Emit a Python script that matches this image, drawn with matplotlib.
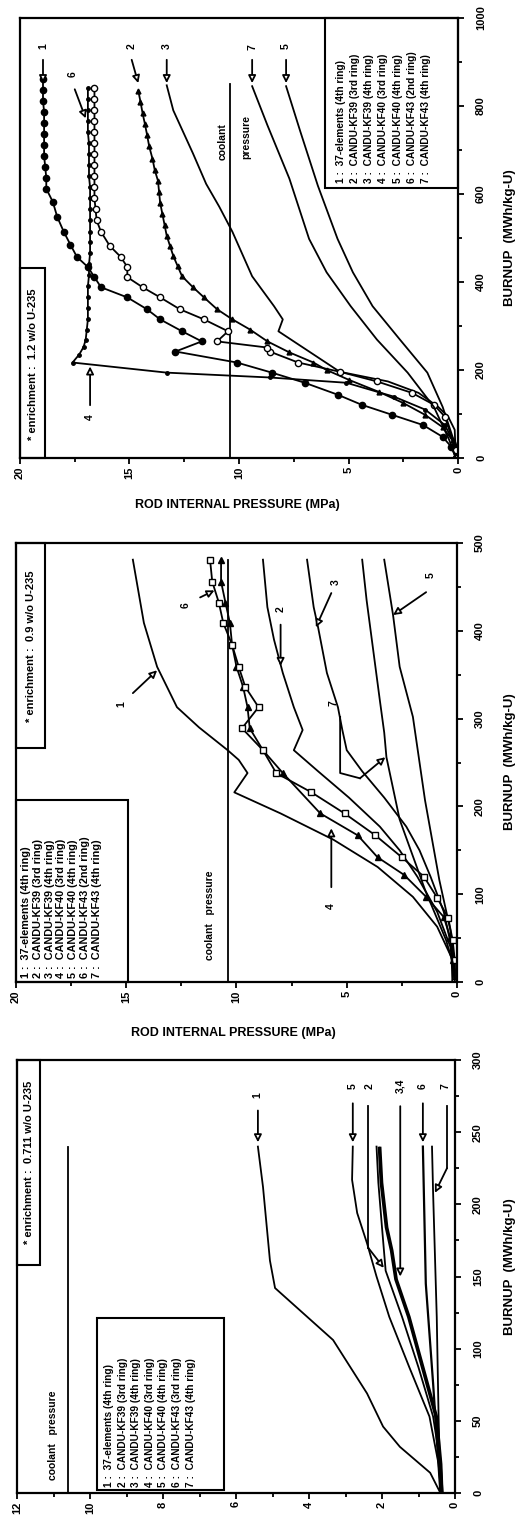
import matplotlib
matplotlib.use('Agg')
import matplotlib.pyplot as plt
from matplotlib.ticker import MultipleLocator
from matplotlib.patches import Rectangle

plt.rcParams['font.family'] = ['Liberation Sans', 'DejaVu Sans']
plt.rcParams['font.weight'] = 'bold'

# ---------------- DATA ----------------
# Panel 1 : enrichment 1.2 w/o U-235  (B = burnup MWh/kg-U, P = pressure MPa)
P1_C1_B = [0, 25, 48, 75, 98, 121, 144, 171, 194, 217, 242, 265, 288, 315, 338, 365, 388, 411, 434, 457,
           485, 514, 548, 582, 612, 637, 662, 687, 712, 737, 762, 787, 812, 837, 862]
P1_C1_P = [0.1, 0.3, 0.7, 1.6, 3.0, 4.4, 5.5, 7.0, 8.5, 10.1, 12.9, 11.7, 12.6, 13.6, 14.2, 15.1, 16.3, 16.6, 16.9, 17.4,
           17.7, 18.0, 18.3, 18.5, 18.8, 18.8, 18.85, 18.9, 18.9, 18.9, 18.9, 18.9, 18.95, 18.95, 18.95]
P1_C2_B = [0, 40, 70, 98, 125, 150, 178, 200, 217, 240, 265, 292, 315, 338, 365, 388, 413, 436, 459, 482, 505,
           530, 555, 580, 605, 630, 655, 680, 708, 735, 760, 783, 810, 835]
P1_C2_P = [0.1, 0.25, 0.7, 1.5, 2.5, 3.6, 5.0, 6.0, 6.6, 7.7, 8.7, 9.5, 10.3, 11.0, 11.6, 12.1, 12.6, 12.8, 13.0, 13.15, 13.3,
           13.4, 13.5, 13.6, 13.65, 13.7, 13.85, 13.95, 14.1, 14.2, 14.3, 14.4, 14.5, 14.6]
P1_C3_B = [0, 64, 94, 116, 148, 174, 196, 288, 315, 345, 413, 514, 571, 623, 692, 790, 847]
P1_C3_P = [0.1, 0.15, 0.45, 0.9, 1.8, 3.2, 5.4, 8.2, 8.0, 8.4, 9.4, 10.3, 10.9, 11.5, 12.1, 13.0, 13.3]
P1_C4_B = [0, 30, 75, 110, 139, 171, 183, 194, 217, 235, 252, 269, 292, 315, 340, 365, 390, 415, 440, 465, 490,
           514, 540, 565, 590, 615, 640, 665, 690, 715, 740, 765, 790, 815, 840]
P1_C4_P = [0.1, 0.15, 0.6, 1.5, 2.9, 5.1, 8.6, 13.3, 17.6, 17.3, 17.1, 17.0, 16.95, 16.9, 16.9, 16.9, 16.9, 16.85, 16.85, 16.8, 16.8,
           16.8, 16.8, 16.8, 16.8, 16.8, 16.85, 16.85, 16.85, 16.85, 16.9, 16.9, 16.9, 16.9, 16.9]
P1_C5_B = [0, 41, 116, 194, 269, 345, 422, 498, 619, 742, 845]
P1_C5_P = [0.1, 0.2, 0.7, 1.4, 2.65, 3.9, 4.8, 5.5, 6.4, 7.2, 7.85]
P1_C6_B = [0, 18, 94, 121, 148, 174, 196, 217, 242, 251, 265, 288, 315, 338, 365, 388, 411, 434, 457, 482, 514,
           540, 565, 590, 615, 640, 665, 690, 715, 740, 765, 790, 815, 840]
P1_C6_P = [0.1, 0.1, 0.6, 1.1, 2.1, 3.7, 5.4, 7.3, 8.6, 8.7, 11.0, 10.5, 11.6, 12.7, 13.6, 14.4, 15.1, 15.1, 15.4, 15.9, 16.3,
           16.5, 16.55, 16.6, 16.6, 16.6, 16.6, 16.6, 16.6, 16.6, 16.6, 16.6, 16.6, 16.6]
P1_C7_B = [0, 41, 116, 194, 269, 345, 422, 498, 635, 756, 845]
P1_C7_P = [0.1, 0.4, 1.1, 2.3, 3.7, 4.9, 6.0, 6.8, 7.7, 8.7, 9.4]
P1_COOLANT_P = 10.4
P1_COOLANT_B = [0, 850]

# Panel 2 : enrichment 0.9 w/o U-235
P2_C1_B = [0, 28, 63, 97, 131, 162, 192, 216, 238, 253, 264, 290, 313, 359, 409, 481]
P2_C1_P = [0.2, 0.25, 0.9, 2.0, 3.6, 5.6, 8.0, 10.1, 9.5, 9.9, 10.4, 11.7, 12.7, 13.6, 14.2, 14.7]
P2_C2_B = [0, 40, 80, 120, 150, 177, 210, 240, 264, 287, 313, 352, 390, 427, 481]
P2_C2_P = [0.1, 0.3, 0.9, 1.8, 2.6, 3.5, 4.9, 6.3, 7.4, 7.0, 7.4, 7.9, 8.3, 8.6, 8.8]
P2_C3_B = [0, 40, 80, 120, 150, 177, 210, 240, 264, 287, 313, 352, 404, 427, 481]
P2_C3_P = [0.1, 0.25, 0.6, 1.2, 1.7, 2.3, 3.3, 4.3, 5.0, 5.2, 5.4, 5.9, 6.3, 6.5, 6.8]
P2_C4_B = [0, 25, 50, 74, 97, 122, 142, 167, 192, 238, 264, 289, 313, 336, 359, 384, 409, 432, 456, 481]
P2_C4_P = [0.2, 0.2, 0.3, 0.6, 1.4, 2.4, 3.6, 4.5, 6.2, 7.9, 8.8, 9.4, 9.5, 9.7, 10.0, 10.2, 10.3, 10.5, 10.7, 10.7]
P2_C5_B = [0, 19, 59, 116, 207, 302, 359, 418, 481]
P2_C5_P = [0.1, 0.1, 0.3, 0.8, 1.45, 2.0, 2.6, 2.9, 3.3]
P2_C6_B = [0, 25, 48, 73, 96, 120, 142, 167, 192, 216, 238, 264, 289, 313, 336, 359, 384, 409, 432, 456, 481]
P2_C6_P = [0.1, 0.1, 0.2, 0.4, 0.9, 1.5, 2.5, 3.7, 5.1, 6.6, 8.2, 8.8, 9.75, 9.0, 9.6, 9.9, 10.2, 10.6, 10.8, 11.1, 11.2]
P2_C7_B = [0, 14, 48, 105, 185, 256, 284, 321, 378, 435, 481]
P2_C7_P = [0.1, 0.1, 0.5, 1.45, 2.6, 3.2, 3.3, 3.5, 3.8, 4.1, 4.3]
P2_COOLANT_P = 10.4
P2_COOLANT_B = [0, 481]

# Panel 3 : enrichment 0.711 w/o U-235
P3_C1_B = [0, 14, 32, 46, 69, 106, 142, 161, 212, 240]
P3_C1_P = [0.4, 0.68, 1.51, 1.97, 2.41, 3.34, 4.93, 5.07, 5.26, 5.4]
P3_C2_B = [0, 20, 53, 87, 122, 154, 184, 215, 240]
P3_C2_P = [0.35, 0.4, 0.6, 1.0, 1.45, 1.9, 2.0, 2.1, 2.15]
P3_C3_B = [0, 20, 53, 87, 122, 148, 168, 184, 215, 239]
P3_C3_P = [0.35, 0.38, 0.5, 0.87, 1.25, 1.6, 1.72, 1.86, 2.0, 2.05]
P3_C4_B = [0, 20, 53, 87, 122, 148, 168, 184, 215, 239]
P3_C4_P = [0.35, 0.4, 0.53, 0.9, 1.28, 1.63, 1.75, 1.89, 2.03, 2.08]
P3_C5_B = [0, 20, 53, 87, 122, 150, 173, 194, 217, 240]
P3_C5_P = [0.38, 0.45, 0.7, 1.25, 1.8, 2.15, 2.41, 2.68, 2.82, 2.8]
P3_C6_B = [0, 76, 145, 240]
P3_C6_P = [0.4, 0.6, 0.8, 0.88]
P3_C7_B = [0, 53, 122, 208, 240]
P3_C7_P = [0.4, 0.45, 0.5, 0.6, 0.63]
P3_COOLANT_P = 10.6
P3_COOLANT_B = [0, 240]

# Tick values
P1_PTICKS = [0, 5, 10, 15, 20]
P1_BTICKS = [0, 200, 400, 600, 800, 1000]
P2_PTICKS = [0, 5, 10, 15, 20]
P2_BTICKS = [0, 100, 200, 300, 400, 500]
P3_PTICKS = [0, 2, 4, 6, 8, 10, 12]
P3_BTICKS = [0, 50, 100, 150, 200, 250, 300]

LEGEND_A = ["1 :  37-elements (4th ring)", "2 :  CANDU-KF39 (3rd ring)", "3 :  CANDU-KF39 (4th ring)",
            "4 :  CANDU-KF40 (3rd ring)", "5 :  CANDU-KF40 (4th ring)", "6 :  CANDU-KF43 (2nd ring)",
            "7 :  CANDU-KF43 (4th ring)"]
LEGEND_B = ["1 :  37-elements (4th ring)", "2 :  CANDU-KF39 (3rd ring)", "3 :  CANDU-KF39 (4th ring)",
            "4 :  CANDU-KF40 (3rd ring)", "5 :  CANDU-KF40 (4th ring)", "6 :  CANDU-KF43 (3rd ring)",
            "7 :  CANDU-KF43 (4th ring)"]

# ---------------- FIGURE ----------------
W, H = 529, 1519
fig = plt.figure(figsize=(W / 100, H / 100), dpi=100)
fig.patch.set_facecolor('white')


def px_axes(left, right, top, bottom):
    return fig.add_axes([left / W, 1 - bottom / H, (right - left) / W, (bottom - top) / H])


def ftext(x, y, s, **kw):
    kw.setdefault('rotation', 90)
    kw.setdefault('ha', 'center')
    kw.setdefault('va', 'center')
    fig.text(x / W, 1 - y / H, s, **kw)


def frect(x0, y0, x1, y1, lw=1.5):
    fig.add_artist(Rectangle((x0 / W, 1 - y1 / H), (x1 - x0) / W, (y1 - y0) / H,
                             transform=fig.transFigure, fill=False, ec='black', lw=lw))


def style(ax, pticks, bticks, pminor, bminor):
    ax.set_xlim(pticks[-1], 0)
    ax.set_ylim(0, bticks[-1])
    ax.set_xticks(pticks)
    ax.set_xticklabels([str(t) for t in pticks])
    ax.set_yticks(bticks)
    ax.set_yticklabels([str(t) for t in bticks])
    ax.xaxis.set_minor_locator(MultipleLocator(pminor))
    ax.yaxis.set_minor_locator(MultipleLocator(bminor))
    ax.yaxis.tick_right()
    ax.tick_params(which='both', direction='out', width=1.3, color='black')
    ax.tick_params(axis='x', which='major', length=4, pad=2, labelsize=8, labelrotation=90)
    ax.tick_params(axis='y', which='major', length=4, pad=9, labelsize=8, labelrotation=90)
    ax.tick_params(which='minor', length=3)
    for lbl in ax.get_yticklabels():
        lbl.set_va('center')
    for s in ax.spines.values():
        s.set_linewidth(1.6)


def arrow(ax, tail, head, label=None, lpos=None, fs=7.5):
    ax.annotate('', xy=head, xytext=tail,
                arrowprops=dict(arrowstyle='-|>', fc='white', ec='black', lw=1.3,
                                mutation_scale=11, shrinkA=0, shrinkB=0))
    if label is not None:
        ax.text(lpos[0], lpos[1], label, rotation=90, ha='center', va='center', fontsize=fs)


LW = 1.3

# ================= PANEL 1 =================
ax1 = px_axes(20, 458, 18, 458)
style(ax1, P1_PTICKS, P1_BTICKS, 2.5, 100)
ax1.plot([P1_COOLANT_P] * 2, P1_COOLANT_B, color='black', lw=LW)
ax1.plot(P1_C1_P, P1_C1_B, color='black', lw=LW, marker='o', ms=4.5)
ax1.plot(P1_C2_P, P1_C2_B, color='black', lw=LW, marker='^', ms=3.5)
ax1.plot(P1_C3_P, P1_C3_B, color='black', lw=LW)
ax1.plot(P1_C4_P, P1_C4_B, color='black', lw=LW, marker='o', ms=2.5)
ax1.plot(P1_C5_P, P1_C5_B, color='black', lw=LW)
ax1.plot(P1_C6_P, P1_C6_B, color='black', lw=LW, marker='o', ms=4.5, mfc='white', mew=1.0)
ax1.plot(P1_C7_P, P1_C7_B, color='black', lw=LW)

for lab, pt, ph in [('1', 18.95, 18.95), ('2', 14.9, 14.6), ('3', 13.3, 13.3), ('7', 9.4, 9.4), ('5', 7.85, 7.85)]:
    arrow(ax1, (pt, 905), (ph, 852), lab, (pt, 935))
arrow(ax1, (17.5, 838), (17.0, 772), '6', (17.6, 872))
arrow(ax1, (16.8, 120), (16.8, 208), '4', (16.8, 93))
ax1.text(10.75, 720, 'coolant', rotation=90, ha='center', va='center', fontsize=7.5)
ax1.text(9.65, 730, 'pressure', rotation=90, ha='center', va='center', fontsize=7.5)

frect(325, 18, 458, 188)
ftext(336, 183, '\n'.join(LEGEND_A), ha='left', va='bottom', fontsize=7.3, linespacing=1.52)
frect(20, 268, 45, 458)
ftext(33, 364, '* enrichment :  1.2 w/o U-235', fontsize=8)
ftext(510, 238, 'BURNUP  (MWh/kg-U)', fontsize=9.5)
ftext(237, 505, 'ROD INTERNAL PRESSURE (MPa)', rotation=0, fontsize=9)

# ================= PANEL 2 =================
ax2 = px_axes(16, 457, 543, 982)
style(ax2, P2_PTICKS, P2_BTICKS, 2.5, 50)
ax2.plot([P2_COOLANT_P] * 2, P2_COOLANT_B, color='black', lw=LW)
ax2.plot(P2_C1_P, P2_C1_B, color='black', lw=LW)
ax2.plot(P2_C2_P, P2_C2_B, color='black', lw=LW)
ax2.plot(P2_C3_P, P2_C3_B, color='black', lw=LW)
ax2.plot(P2_C4_P, P2_C4_B, color='black', lw=LW, marker='^', ms=4)
ax2.plot(P2_C5_P, P2_C5_B, color='black', lw=LW)
ax2.plot(P2_C6_P, P2_C6_B, color='black', lw=LW, marker='s', ms=5, mfc='white', mew=1.0)
ax2.plot(P2_C7_P, P2_C7_B, color='black', lw=LW)

arrow(ax2, (14.7, 329), (13.6, 355), '1', (15.2, 316))
arrow(ax2, (8.0, 407), (8.0, 360), '2', (8.0, 425))
arrow(ax2, (5.7, 443), (6.4, 404), '3', (5.5, 455))
arrow(ax2, (1.4, 444), (2.9, 418), '5', (1.2, 463))
arrow(ax2, (11.65, 438), (11.0, 446), '6', (12.3, 429))
arrow(ax2, (5.7, 108), (5.7, 175), '4', (5.7, 86))
ax2.plot([5.3, 5.3, 4.4], [302, 238, 232], color='black', lw=1.3)
arrow(ax2, (4.4, 232), (3.25, 256), '7', (5.6, 318))
ax2.text(11.2, 76, 'coolant   pressure', rotation=90, ha='center', va='center', fontsize=7.5)

frect(16, 800, 128, 982)
ftext(21, 978, '\n'.join(LEGEND_A), ha='left', va='bottom', fontsize=7.8, linespacing=1.22)
frect(16, 543, 45, 748)
ftext(31, 646, '* enrichment :  0.9 w/o U-235', fontsize=8)
ftext(510, 762, 'BURNUP  (MWh/kg-U)', fontsize=9.5)
ftext(233, 1033, 'ROD INTERNAL PRESSURE (MPa)', rotation=0, fontsize=9)

# ================= PANEL 3 =================
ax3 = px_axes(17, 455, 1060, 1493)
style(ax3, P3_PTICKS, P3_BTICKS, 1, 25)
ax3.plot([P3_COOLANT_P] * 2, P3_COOLANT_B, color='black', lw=LW)
ax3.plot(P3_C1_P, P3_C1_B, color='black', lw=LW)
ax3.plot(P3_C2_P, P3_C2_B, color='black', lw=LW)
ax3.plot(P3_C3_P, P3_C3_B, color='black', lw=LW + 0.6)
ax3.plot(P3_C4_P, P3_C4_B, color='black', lw=LW + 0.6)
ax3.plot(P3_C5_P, P3_C5_B, color='black', lw=LW)
ax3.plot(P3_C6_P, P3_C6_B, color='black', lw=LW + 0.3)
ax3.plot(P3_C7_P, P3_C7_B, color='black', lw=LW)

arrow(ax3, (5.4, 265), (5.4, 243), '1', (5.42, 276))
arrow(ax3, (2.8, 270), (2.8, 243), '5', (2.8, 282))
ax3.plot([2.38, 2.38], [268, 170], color='black', lw=1.3)
arrow(ax3, (2.38, 170), (1.95, 156), '2', (2.35, 282))
arrow(ax3, (1.5, 268), (1.5, 150), '3,4', (1.5, 282))
arrow(ax3, (0.88, 270), (0.88, 243), '6', (0.88, 282))
ax3.plot([0.22, 0.22], [268, 225], color='black', lw=1.3)
arrow(ax3, (0.22, 225), (0.55, 208), '7', (0.27, 282))
ax3.text(11.0, 40, 'coolant   pressure', rotation=90, ha='center', va='center', fontsize=7.5)

frect(97, 1318, 224, 1490)
ftext(104, 1487, '\n'.join(LEGEND_B), ha='left', va='bottom', fontsize=7.3, linespacing=1.45)
frect(17, 1060, 40, 1265)
ftext(29, 1162, '* enrichment :  0.711 w/o U-235', fontsize=8)
ftext(510, 1267, 'BURNUP  (MWh/kg-U)', fontsize=9.5)

fig.savefig('out.png', dpi=100, facecolor='white')
